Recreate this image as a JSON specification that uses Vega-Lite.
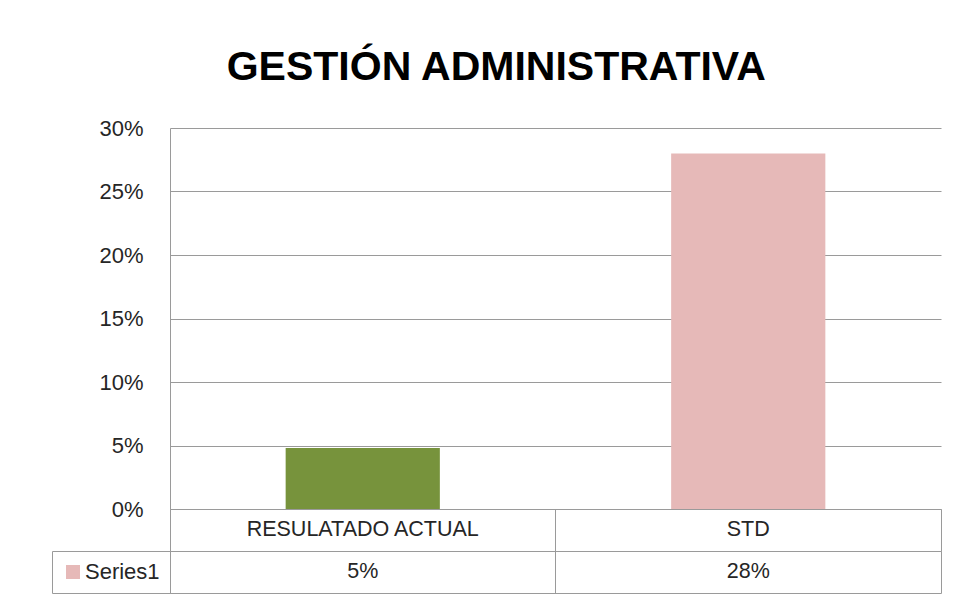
{
  "$schema": "https://vega.github.io/schema/vega-lite/v6.json",
  "autosize": {"type": "pad"},
  "padding": {"left": 51, "top": 47, "right": 5, "bottom": 5},
  "background": "white",
  "title": {
    "text": "GESTIÓN ADMINISTRATIVA",
    "font": "Liberation Sans",
    "fontSize": 41,
    "fontWeight": "bold",
    "color": "#000000",
    "anchor": "middle",
    "frame": "bounds",
    "offset": 28
  },
  "datasets": {
    "d": [
      {"cat": "RESULATADO ACTUAL", "value": 0.048},
      {"cat": "STD", "value": 0.28}
    ]
  },
  "bounds": "flush",
  "spacing": 0,
  "resolve": {"scale": {"fill": "independent", "x": "independent"}, "legend": {"fill": "independent"}},
  "vconcat": [
    {
      "width": 771,
      "height": 381,
      "view": {"stroke": null},
      "data": {"name": "d"},
      "mark": {"type": "bar"},
      "encoding": {
        "x": {
          "field": "cat",
          "type": "nominal",
          "sort": null,
          "scale": {"type": "band", "paddingInner": 0.6, "paddingOuter": 0.3},
          "axis": null
        },
        "y": {
          "field": "value",
          "type": "quantitative",
          "scale": {"domain": [0, 0.3], "nice": false},
          "axis": {
            "values": [0, 0.05, 0.1, 0.15, 0.2, 0.25, 0.3],
            "format": ".0%",
            "grid": true,
            "gridColor": "#9a9a9a",
            "ticks": false,
            "domain": true,
            "domainColor": "#9a9a9a",
            "labelFont": "Liberation Sans",
            "labelFontSize": 22,
            "labelColor": "#262626",
            "labelPadding": 27,
            "title": null
          }
        },
        "color": {
          "field": "cat",
          "type": "nominal",
          "scale": {"domain": ["RESULATADO ACTUAL", "STD"], "range": ["#77933C", "#E6B9B8"]},
          "legend": null
        }
      }
    },
    {
      "width": 771,
      "height": 42,
      "data": {"name": "d"},
      "mark": {"type": "text", "font": "Liberation Sans", "fontSize": 21.5, "color": "#262626"},
      "encoding": {
        "x": {
          "field": "cat",
          "type": "nominal",
          "sort": null,
          "scale": {"type": "band", "paddingInner": 0, "paddingOuter": 0},
          "axis": {"grid": true, "bandPosition": 0, "gridColor": "#9a9a9a", "labels": false, "ticks": false, "domain": false, "title": null}
        },
        "text": {"field": "cat"}
      }
    },
    {
      "width": 771,
      "height": 42,
      "data": {"name": "d"},
      "layer": [
        {
          "mark": {"type": "text", "font": "Liberation Sans", "fontSize": 21.5, "color": "#262626"},
          "encoding": {
            "x": {
              "field": "cat",
              "type": "nominal",
              "sort": null,
              "scale": {"type": "band", "paddingInner": 0, "paddingOuter": 0},
              "axis": {"grid": true, "bandPosition": 0, "gridColor": "#9a9a9a", "labels": false, "ticks": false, "domain": false, "title": null}
            },
            "text": {"field": "value", "type": "quantitative", "format": ".0%"}
          }
        },
        {
          "mark": {"type": "square", "size": 0, "opacity": 0},
          "encoding": {
            "fill": {
              "datum": "Series1",
              "type": "nominal",
              "scale": {"range": ["#E6B9B8"]},
              "legend": {
                "orient": "left",
                "offset": 0,
                "title": null,
                "padding": 10,
                "strokeColor": "#9a9a9a",
                "symbolType": "square",
                "symbolSize": 196,
                "symbolOpacity": 1,
                "symbolFillColor": "#E6B9B8",
                "symbolStrokeWidth": 0,
                "labelFont": "Liberation Sans",
                "labelFontSize": 22,
                "labelColor": "#262626",
                "labelOffset": 1
              }
            }
          }
        }
      ]
    }
  ],
  "config": {
    "view": {"stroke": "#9a9a9a", "strokeWidth": 1}
  }
}
